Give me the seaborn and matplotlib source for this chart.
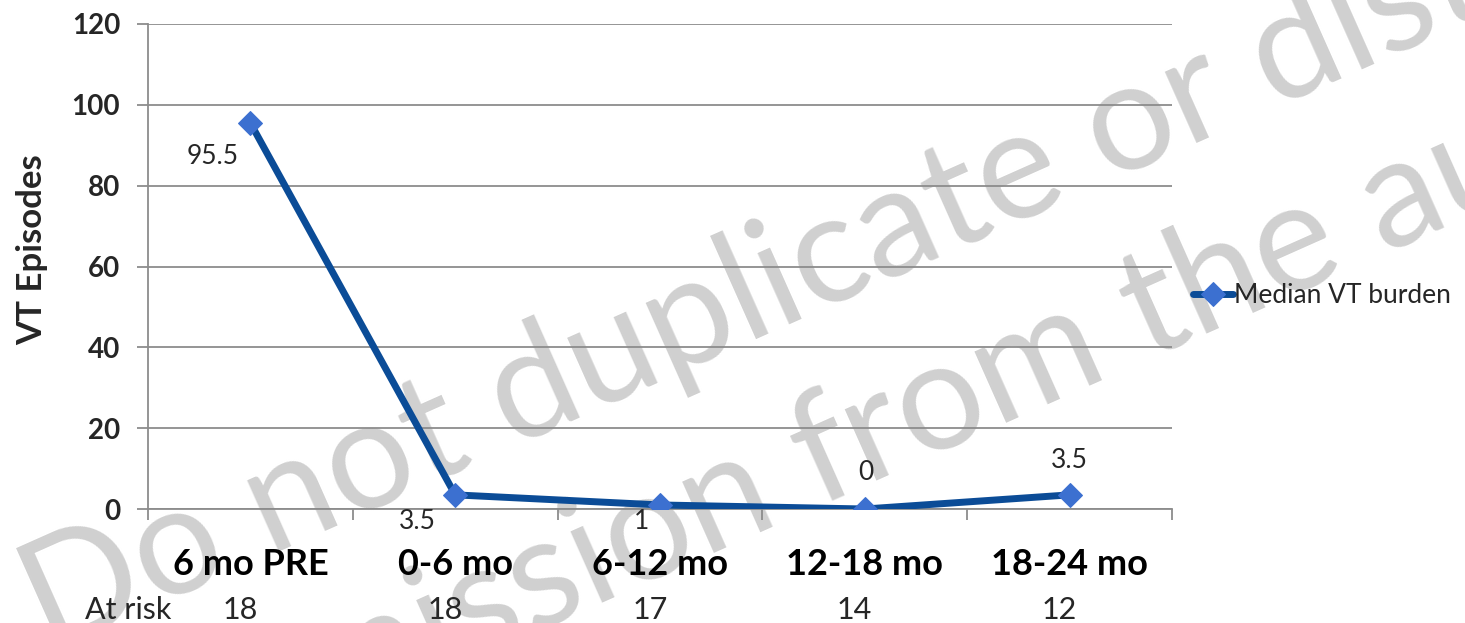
import matplotlib
matplotlib.use("Agg")
import matplotlib.pyplot as plt
import matplotlib.transforms as mtransforms
import seaborn as sns
import pandas as pd

# data
periods = ["6 mo PRE", "0-6 mo", "6-12 mo", "12-18 mo", "18-24 mo"]
median_vt = [95.5, 3.5, 1, 0, 3.5]
at_risk = [18, 18, 17, 14, 12]
y_ticks = [0, 20, 40, 60, 80, 100, 120]

# where each value label sits relative to its point (points)
label_offsets = [(-27, -24), (-27, -19), (-13, -12), (1, 26), (0, 25)]

LINE = "#0B4C97"
MARK = "#3C70D0"
GRID = "#8c8c8c"

sns.set_theme(style="white")
plt.rcParams['font.family'] = ['Lato', 'DejaVu Sans']

fig = plt.figure(figsize=(14.65, 6.23), dpi=100)
ax = fig.add_axes([148 / 1465, 114 / 623, 1024 / 1465, 485 / 623])
ax.set_facecolor('none')

# watermark behind the chart
wm = dict(rotation=24, rotation_mode='anchor', ha='left', va='baseline',
          fontsize=110, color='#d0d0d0', zorder=-1)
fig.text(0.033, -0.05, "Do not duplicate or distribute without", **wm)
fig.text(0.082, -0.312, "permission from the author", **wm)

df = pd.DataFrame({"period": periods, "episodes": median_vt})
sns.lineplot(data=df, x="period", y="episodes", ax=ax, sort=False,
             color=LINE, linewidth=5, marker='D', markersize=12,
             markerfacecolor=MARK, markeredgecolor=MARK,
             label="Median VT burden", zorder=5)

ax.set_xlim(-0.5, len(periods) - 0.5)
ax.set_ylim(0, 120)
ax.set_yticks(y_ticks, labels=[str(v) for v in y_ticks], fontsize=20, fontweight='bold')
ax.set_xticks(range(len(periods)), labels=periods, fontsize=26, fontweight='bold')
ax.set_xticks([i - 0.5 for i in range(len(periods) + 1)], minor=True)

ax.yaxis.grid(True, color=GRID, linewidth=1.3)
ax.xaxis.grid(False)
ax.tick_params(axis='x', which='major', bottom=False, pad=22, colors='black')
ax.tick_params(axis='x', which='minor', bottom=True, length=8, width=1.3, color=GRID)
ax.tick_params(axis='y', left=True, length=8, width=1.3, color=GRID, pad=12)

for side in ['top', 'right']:
    ax.spines[side].set_visible(False)
for side in ['left', 'bottom']:
    ax.spines[side].set_color(GRID)
    ax.spines[side].set_linewidth(1.3)

ax.set_xlabel('')
ax.set_ylabel("VT Episodes", fontsize=25, fontweight='bold')
ax.yaxis.set_label_coords(-0.097, 0.534)

for i, (v, off) in enumerate(zip(median_vt, label_offsets)):
    ax.annotate(f"{v:g}", (i, v), xytext=off, textcoords='offset points',
                ha='center', va='center', fontsize=19, zorder=6)

# at-risk row under the category labels
blend = mtransforms.blended_transform_factory(ax.transData, fig.transFigure)
fig.text(85 / 1465, 0.021, "At risk", ha='left', va='center', fontsize=22)
for i, n in enumerate(at_risk):
    ax.text(i - 0.05, 0.021, str(n), transform=blend, ha='center', va='center',
            fontsize=22, clip_on=False)

ax.legend(loc='center left', bbox_to_anchor=(1193 / 1465, 0.525),
          bbox_transform=fig.transFigure, frameon=False, fontsize=19,
          handlelength=1.5, handletextpad=0.05, borderpad=0, borderaxespad=0)

fig.savefig("out.png", dpi=100)
plt.close(fig)
